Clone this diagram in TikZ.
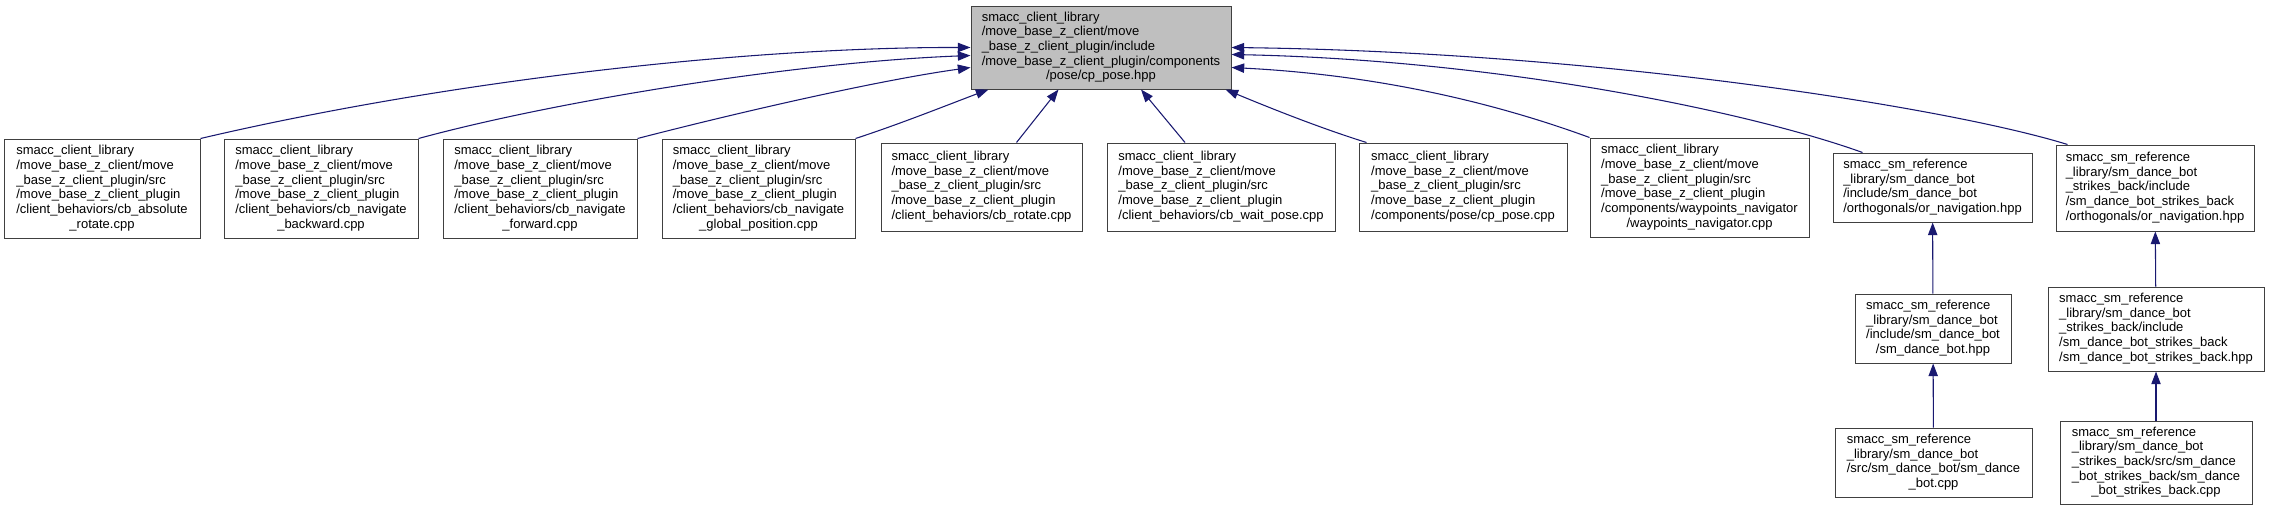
\documentclass[tikz,border=0pt]{standalone}
\usepackage{fontspec}
\setmainfont{Liberation Sans}
\usetikzlibrary{arrows.meta,calc}
\definecolor{mblue}{RGB}{25,25,112}
\definecolor{rootgray}{RGB}{191,191,191}
\newcommand{\dlab}[2]{\begin{tabular}{@{}l@{}}#1\\\multicolumn{1}{@{}c@{}}{#2}\end{tabular}}
\newcommand{\cpre}{smacc\_client\_library\\/move\_base\_z\_client/move\\\_base\_z\_client\_plugin/src\\/move\_base\_z\_client\_plugin}
\newcommand{\spre}{smacc\_sm\_reference\\\_library/sm\_dance\_bot}
\tikzset{
  box/.style={draw=black!75, line width=0.75pt, fill=white, inner sep=0pt,
    font=\fontsize{9.75}{11}\selectfont},
  sz/.style 2 args={minimum width=#1*0.75pt, minimum height=#2*0.75pt},
  dep/.style={draw=mblue, line width=0.8pt, arrows={Triangle[length=9.5pt,width=7pt]-}}
}
\begin{document}
\begin{tikzpicture}[x=0.75pt,y=-0.75pt]
\useasboundingbox (0,0) rectangle (2269,511);
% root
\node[box, fill=rootgray, sz={260}{83}] (root) at (1101,47.5)
  {\dlab{smacc\_client\_library\\/move\_base\_z\_client/move\\\_base\_z\_client\_plugin/include\\/move\_base\_z\_client\_plugin/components}{/pose/cp\_pose.hpp}};
% rank 1
\node[box, sz={196}{99}] (b1) at (102,188.5) {\dlab{\cpre\\/client\_behaviors/cb\_absolute}{\_rotate.cpp}};
\node[box, sz={194}{99}] (b2) at (321,188.5) {\dlab{\cpre\\/client\_behaviors/cb\_navigate}{\_backward.cpp}};
\node[box, sz={194}{99}] (b3) at (540,188.5) {\dlab{\cpre\\/client\_behaviors/cb\_navigate}{\_forward.cpp}};
\node[box, sz={193}{99}] (b4) at (758.5,188.5) {\dlab{\cpre\\/client\_behaviors/cb\_navigate}{\_global\_position.cpp}};
\node[box, sz={201}{88}] (b5) at (981.5,187) {\dlab{\cpre}{/client\_behaviors/cb\_rotate.cpp}};
\node[box, sz={228}{88}] (b6) at (1221,187) {\dlab{\cpre}{/client\_behaviors/cb\_wait\_pose.cpp}};
\node[box, sz={208}{88}] (b7) at (1463,187) {\dlab{\cpre}{/components/pose/cp\_pose.cpp}};
\node[box, sz={219}{99}] (b8) at (1699.5,187.5) {\dlab{\cpre\\/components/waypoints\_navigator}{/waypoints\_navigator.cpp}};
\node[box, sz={199}{69}] (b9) at (1932.5,187.5) {\dlab{\spre\\/include/sm\_dance\_bot}{/orthogonals/or\_navigation.hpp}};
\node[box, sz={198}{86}] (b10) at (2155,188) {\dlab{\spre\\\_strikes\_back/include\\/sm\_dance\_bot\_strikes\_back}{/orthogonals/or\_navigation.hpp}};
% rank 2
\node[box, sz={156}{69}] (b11) at (1933,328.5) {\dlab{\spre\\/include/sm\_dance\_bot}{/sm\_dance\_bot.hpp}};
\node[box, sz={216}{84}] (b12) at (2156,329) {\dlab{\spre\\\_strikes\_back/include\\/sm\_dance\_bot\_strikes\_back}{/sm\_dance\_bot\_strikes\_back.hpp}};
% rank 3
\node[box, sz={197}{69}] (b13) at (1933.5,462.5) {\dlab{\spre\\/src/sm\_dance\_bot/sm\_dance}{\_bot.cpp}};
\node[box, sz={192}{83}] (b14) at (2156,462.5) {\dlab{\spre\\\_strikes\_back/src/sm\_dance\\\_bot\_strikes\_back/sm\_dance}{\_bot\_strikes\_back.cpp}};
% edges
\draw[dep] (root.west) .. controls (750,47) and (450,80) .. (b1.north east);
\draw[dep] ($(root.west)+(0,8)$) .. controls (800,62) and (560,100) .. (b2.north east);
\draw[dep] ($(root.west)+(0,20)$) .. controls (880,80) and (740,112) .. (b3.north east);
\draw[dep] ($(root.south west)+(18,0)$) .. controls (950,104) and (900,124) .. (b4.north east);
\draw[dep] ($(root.south west)+(88,0)$) -- ($(b5.north)+(35,0)$);
\draw[dep] ($(root.south)+(40,0)$) -- ($(b6.north)+(-36,0)$);
\draw[dep] ($(root.south east)+(-6,0)$) .. controls (1270,108) and (1320,128) .. ($(b7.north west)+(8,0)$);
\draw[dep] ($(root.east)+(0,20)$) .. controls (1400,76) and (1520,112) .. (b8.north west);
\draw[dep] ($(root.east)+(0,7)$) .. controls (1500,60) and (1750,112) .. ($(b9.north west)+(30,0)$);
\draw[dep] (root.east) .. controls (1600,52) and (1950,108) .. ($(b10.north west)+(12,0)$);
\draw[dep] (b9) -- (b11);
\draw[dep] (b11) -- (b13);
\draw[dep] (b10) -- (b12);
\draw[dep] (b12) -- (b14);
\end{tikzpicture}
\end{document}
